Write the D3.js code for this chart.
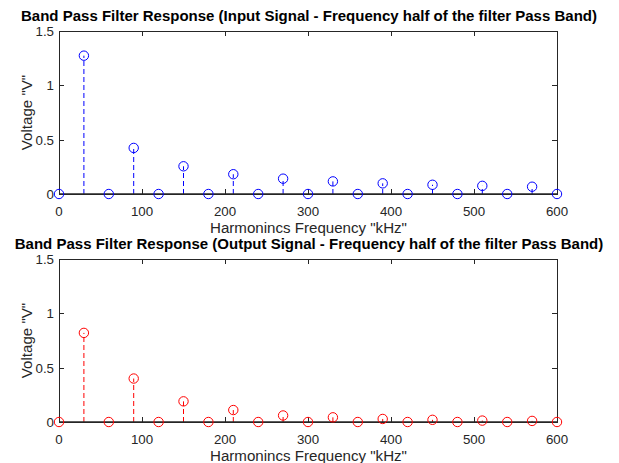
<!DOCTYPE html>
<html><head><meta charset="utf-8">
<script src="https://cdn.jsdelivr.net/npm/d3@7"></script>
<style>body{margin:0;background:#fff}svg{display:block}text{font-family:Arial,"Liberation Sans",Helvetica,sans-serif}</style>
</head><body>
<div id="chart"></div>
<script>
const freqs = [0,30,60,90,120,150,180,210,240,270,300,330,360,390,420,450,480,510,540,570,600];
const inputVals = [0,1.273,0,0.424,0,0.255,0,0.182,0,0.141,0,0.116,0,0.098,0,0.085,0,0.075,0,0.067,0];
const outputVals = [0,0.82,0,0.40,0,0.19,0,0.11,0,0.06,0,0.043,0,0.028,0,0.02,0,0.013,0,0.01,0];
const xTicks = [0,100,200,300,400,500,600];
const yTicks = [0,0.5,1,1.5];
const titles = ["Band Pass Filter Response (Input Signal - Frequency half of the filter Pass Band)",
                "Band Pass Filter Response (Output Signal - Frequency half of the filter Pass Band)"];
const xLabel = 'Harmonincs Frequency "kHz"';
const yLabel = 'Voltage "V"';
const colors = ["#0000ff", "#ff0000"];

const W = 619, H = 463;
const svg = d3.select("#chart").append("svg").attr("width", W).attr("height", H);
svg.append("rect").attr("width", W).attr("height", H).attr("fill", "#fff");

const left = 59, right = 557;
const panels = [{top:31, bottom:194, vals:inputVals}, {top:259, bottom:422, vals:outputVals}];
const axisColor = "#262626";
const tickFont = 13.3, labelFont = 15.1, titleFont = 15;

panels.forEach((p, i) => {
  const x = d3.scaleLinear().domain([0,600]).range([left,right]);
  const y = d3.scaleLinear().domain([0,1.5]).range([p.bottom,p.top]);
  const g = svg.append("g");
  g.append("rect").attr("x", left+0.5).attr("y", p.top+0.5).attr("width", right-left).attr("height", p.bottom-p.top)
    .attr("fill", "none").attr("stroke", axisColor).attr("stroke-width", 1);
  const tl = 5;
  xTicks.forEach(t => {
    const xx = Math.round(x(t))+0.5;
    g.append("line").attr("x1",xx).attr("x2",xx).attr("y1",p.bottom).attr("y2",p.bottom-tl).attr("stroke",axisColor);
    g.append("line").attr("x1",xx).attr("x2",xx).attr("y1",p.top).attr("y2",p.top+tl).attr("stroke",axisColor);
    g.append("text").attr("x",x(t)).attr("y",p.bottom+22).attr("text-anchor","middle")
      .attr("font-size",tickFont).attr("fill",axisColor).text(t);
  });
  yTicks.forEach(t => {
    const yy = Math.round(y(t))+0.5;
    g.append("line").attr("x1",left).attr("x2",left+tl).attr("y1",yy).attr("y2",yy).attr("stroke",axisColor);
    g.append("line").attr("x1",right).attr("x2",right-tl).attr("y1",yy).attr("y2",yy).attr("stroke",axisColor);
    g.append("text").attr("x",left-5).attr("y",y(t)+5).attr("text-anchor","end")
      .attr("font-size",tickFont).attr("fill",axisColor).text(t);
  });
  g.append("text").attr("x",(left+right)/2+0.5).attr("y",p.bottom+39).attr("text-anchor","middle")
    .attr("font-size",labelFont).attr("fill",axisColor).text(xLabel);
  g.append("text").attr("transform",`translate(32,${(p.top+p.bottom)/2}) rotate(-90)`).attr("text-anchor","middle")
    .attr("font-size",labelFont).attr("fill",axisColor).text(yLabel);
  g.append("text").attr("x",(left+right)/2+1).attr("y",p.top-10).attr("text-anchor","middle")
    .attr("font-size",titleFont).attr("font-weight","bold").attr("fill","#000").text(titles[i]);
  const pts = freqs.map((f,k)=>({f, v:p.vals[k]}));
  g.selectAll(".stem").data(pts).enter().append("line")
    .attr("x1",d=>x(d.f)).attr("x2",d=>x(d.f)).attr("y1",y(0)).attr("y2",d=>y(d.v))
    .attr("stroke",colors[i]).attr("stroke-width",1).attr("stroke-dasharray","5,3");
  g.append("line").attr("x1",left).attr("x2",right).attr("y1",y(0)).attr("y2",y(0))
    .attr("stroke","#262626").attr("stroke-width",1.5);
  g.selectAll(".mk").data(pts).enter().append("circle")
    .attr("cx",d=>x(d.f)).attr("cy",d=>y(d.v)).attr("r",4.7)
    .attr("fill","none").attr("stroke",colors[i]).attr("stroke-width",1);
});
</script>
</body></html>
